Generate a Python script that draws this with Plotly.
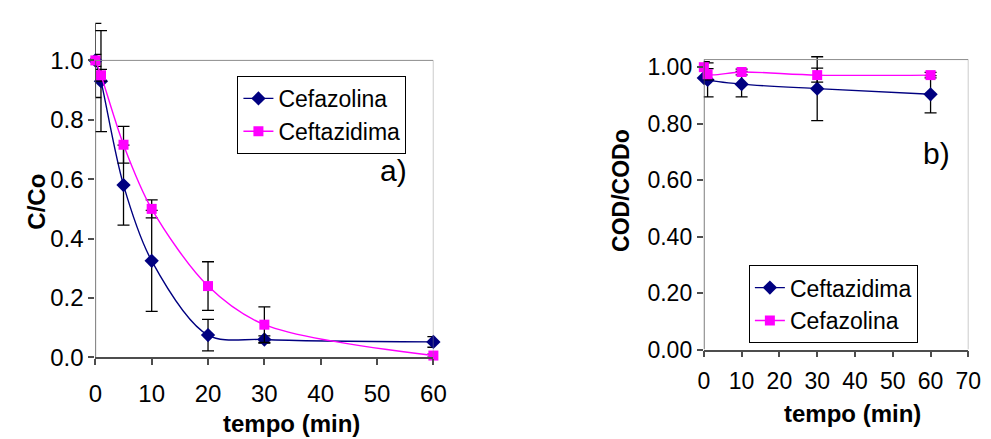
import plotly.graph_objects as go

# ---------------- data ----------------
# panel a) C/Co vs tempo
t_a = [0, 1, 5, 10, 20, 30, 60]
cefazolina_a = [1.0, 0.93, 0.58, 0.325, 0.075, 0.06, 0.052]
cefazolina_a_err = [0.125, 0.17, 0.135, 0.17, 0.053, 0.012, 0.018]
ceftazidima_a = [1.0, 0.95, 0.716, 0.50, 0.24, 0.11, 0.006]
ceftazidima_a_err = [0.02, 0.02, 0.062, 0.03, 0.082, 0.06, 0.005]

# panel b) COD/CODo vs tempo
t_b = [0, 1, 10, 30, 60]
ceftazidima_b = [0.962, 0.955, 0.94, 0.924, 0.904]
ceftazidima_b_err = [0.02, 0.06, 0.045, 0.113, 0.066]
cefazolina_b = [1.0, 0.975, 0.983, 0.972, 0.972]
cefazolina_b_err = [0.02, 0.02, 0.01, 0.025, 0.01]

xticks_a = [0, 10, 20, 30, 40, 50, 60]
yticks_a = [0.0, 0.2, 0.4, 0.6, 0.8, 1.0]
xticks_b = [0, 10, 20, 30, 40, 50, 60, 70]
yticks_b = [0.0, 0.2, 0.4, 0.6, 0.8, 1.0]

NAVY = "#000080"
MAG = "#FF00FF"
FONT = "Liberation Sans, Arial, sans-serif"
AXC = "#4d4d4d"
BOXC = "#8c8c8c"

W, H = 991, 439


def err(vals):
    return dict(type="data", array=vals, visible=True, color="black",
                thickness=1.3, width=6)


fig = go.Figure()

# panel a
fig.add_trace(go.Scatter(x=t_a, y=cefazolina_a, name="Cefazolina", mode="lines+markers",
                         line=dict(color=NAVY, width=1.4, shape="spline", smoothing=0.9),
                         marker=dict(symbol="diamond", size=11, color=NAVY),
                         error_y=err(cefazolina_a_err), cliponaxis=False,
                         xaxis="x", yaxis="y", legend="legend"))
fig.add_trace(go.Scatter(x=t_a, y=ceftazidima_a, name="Ceftazidima", mode="lines+markers",
                         line=dict(color=MAG, width=1.4, shape="spline", smoothing=0.9),
                         marker=dict(symbol="square", size=10, color=MAG),
                         error_y=err(ceftazidima_a_err), cliponaxis=False,
                         xaxis="x", yaxis="y", legend="legend"))

# panel b
fig.add_trace(go.Scatter(x=t_b, y=ceftazidima_b, name="Ceftazidima", mode="lines+markers",
                         line=dict(color=NAVY, width=1.4, shape="spline", smoothing=0.9),
                         marker=dict(symbol="diamond", size=11, color=NAVY),
                         error_y=err(ceftazidima_b_err), cliponaxis=False,
                         xaxis="x2", yaxis="y2", legend="legend2"))
fig.add_trace(go.Scatter(x=t_b, y=cefazolina_b, name="Cefazolina", mode="lines+markers",
                         line=dict(color=MAG, width=1.4, shape="spline", smoothing=0.9),
                         marker=dict(symbol="square", size=10, color=MAG),
                         error_y=err(cefazolina_b_err), cliponaxis=False,
                         xaxis="x2", yaxis="y2", legend="legend2"))


def px_x(p):
    return p / W


def px_y(p):
    return 1 - p / H


tickfont = dict(family=FONT, size=24, color="black")
tickfont_b = dict(family=FONT, size=23, color="black")

# panel a axes: 0 -> y=360px, 1.0 -> y=54px
ya_max = 1.14
ya_top_px = 360 - ya_max * 306
fig.update_layout(
    xaxis=dict(domain=[px_x(82), px_x(427)], range=[0, 60], tickvals=xticks_a,
               showgrid=False, zeroline=False, showline=True, linecolor=AXC, linewidth=1.5,
               ticks="outside", ticklen=6, tickcolor=AXC, tickwidth=1.5,
               tickfont=tickfont, ticklabelstandoff=8, anchor="y"),
    yaxis=dict(domain=[px_y(360), px_y(ya_top_px)], range=[0, ya_max], tickvals=yticks_a,
               tickformat=".1f", showgrid=False, zeroline=False, showline=False,
               ticks="outside", ticklen=6, tickcolor=AXC, tickwidth=1.5,
               tickfont=tickfont, anchor="x"),
)

# panel b axes: 0 -> y=352px, 1.0 -> y=61px
yb_max = 1.06
yb_top_px = 352 - yb_max * 291
fig.update_layout(
    xaxis2=dict(domain=[px_x(703), px_x(973)], range=[0, 70], tickvals=xticks_b,
                showgrid=False, zeroline=False, showline=True, linecolor=AXC, linewidth=1.5,
                ticks="outside", ticklen=6, tickcolor=AXC, tickwidth=1.5,
                tickfont=tickfont_b, ticklabelstandoff=4, anchor="y2"),
    yaxis2=dict(domain=[px_y(352), px_y(yb_top_px)], range=[0, yb_max], tickvals=yticks_b,
                tickformat=".2f", showgrid=False, zeroline=False, showline=False,
                ticks="outside", ticklen=6, tickcolor=AXC, tickwidth=1.5,
                tickfont=tickfont_b, anchor="x2"),
)

shapes = [
    # panel a frame
    dict(type="line", xref="x", yref="y", x0=0, x1=0, y0=0, y1=1.0, line=dict(color=AXC, width=1.5)),
    dict(type="line", xref="x", yref="y", x0=0, x1=60, y0=1.0, y1=1.0, line=dict(color=BOXC, width=1)),
    dict(type="line", xref="x", yref="y", x0=60, x1=60, y0=0, y1=1.0, line=dict(color=BOXC, width=1)),
    # panel b frame
    dict(type="line", xref="x2", yref="y2", x0=0, x1=0, y0=0, y1=1.027, line=dict(color=AXC, width=1.5)),
    dict(type="line", xref="x2", yref="y2", x0=0, x1=70, y0=1.027, y1=1.027, line=dict(color=BOXC, width=1)),
    dict(type="line", xref="x2", yref="y2", x0=70, x1=70, y0=0, y1=1.027, line=dict(color=BOXC, width=1)),
]

titlefont = dict(family=FONT, size=24, color="black")
titlefont_b = dict(family=FONT, size=23, color="black")
annotations = [
    dict(text="<b>C/Co</b>", x=px_x(22), y=px_y(200), xref="paper", yref="paper",
         textangle=-90, showarrow=False, font=titlefont, xanchor="center", yanchor="middle"),
    dict(text="<b>tempo (min)</b>", x=px_x(282), y=px_y(428), xref="paper", yref="paper",
         showarrow=False, font=titlefont, xanchor="center", yanchor="middle"),
    dict(text="a)", x=px_x(386), y=px_y(167), xref="paper", yref="paper",
         showarrow=False, font=dict(family=FONT, size=30, color="black"),
         xanchor="center", yanchor="middle"),
    dict(text="<b>COD/CODo</b>", x=px_x(619), y=px_y(188), xref="paper", yref="paper",
         textangle=-90, showarrow=False, font=titlefont_b, xanchor="center", yanchor="middle"),
    dict(text="<b>tempo (min)</b>", x=px_x(855), y=px_y(418), xref="paper", yref="paper",
         showarrow=False, font=titlefont, xanchor="center", yanchor="middle"),
    dict(text="b)", x=px_x(940), y=px_y(150), xref="paper", yref="paper",
         showarrow=False, font=dict(family=FONT, size=30, color="black"),
         xanchor="center", yanchor="middle"),
]

legfont = dict(family=FONT, size=23, color="black")
fig.update_layout(
    width=W, height=H,
    margin=dict(l=0, r=0, t=0, b=0),
    paper_bgcolor="white", plot_bgcolor="white",
    showlegend=True,
    legend=dict(x=px_x(227), y=px_y(70), xanchor="left", yanchor="top",
                bordercolor="black", borderwidth=1, bgcolor="white", font=legfont,
                itemwidth=30, tracegroupgap=0),
    legend2=dict(x=px_x(749), y=px_y(265), xanchor="left", yanchor="top",
                 bordercolor="black", borderwidth=1, bgcolor="white", font=legfont,
                 itemwidth=30, tracegroupgap=0),
    shapes=shapes,
    annotations=annotations,
    font=dict(family=FONT),
)

fig.write_html("out.html")
